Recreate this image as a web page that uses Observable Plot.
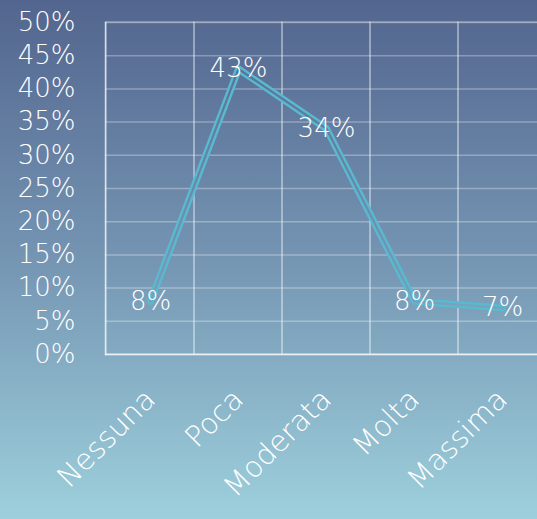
<!DOCTYPE html>
<html><head><meta charset="utf-8">
<script src="https://cdn.jsdelivr.net/npm/d3@7"></script>
<script src="https://cdn.jsdelivr.net/npm/@observablehq/plot@0.6"></script>
<style>
html,body{margin:0;padding:0;width:537px;height:519px;overflow:hidden;}
body{background:linear-gradient(to bottom,#52658e 0%,#7595b3 50%,#9dd0dc 100%);}
#chart svg{display:block;max-width:none !important;}
</style></head><body>
<div id="chart"></div>
<script>
const categories = ["Nessuna", "Poca", "Moderata", "Molta", "Massima"];
const values = [8, 43, 34, 8, 7];
const yTicks = [0, 5, 10, 15, 20, 25, 30, 35, 40, 45, 50];

const data = categories.map((c, i) => ({cat: c, value: values[i]}));

const plot = Plot.plot({
  width: 548,
  height: 519,
  marginLeft: 105,
  marginRight: 1,
  marginTop: 22,
  marginBottom: 165,
  style: {background: "transparent", fontFamily: "'DejaVu Sans', Lato, sans-serif", fontSize: "26px", fontWeight: 200, color: "white", overflow: "visible", maxWidth: "none"},
  x: {type: "band", domain: categories, padding: 0, label: null, tickSize: 0, tickRotate: -45, tickPadding: 40},
  y: {domain: [0, 50], ticks: yTicks, tickFormat: d => d + "%", label: null, tickSize: 0, tickPadding: 30},
  marks: [
    Plot.barY(categories, {x: d => d, y1: 0, y2: 50, fill: "none", stroke: "white", strokeWidth: 1.5, opacity: 0.3}),
    Plot.ruleY(yTicks, {y: d => d, stroke: "white", strokeWidth: 1.5, opacity: 0.3}),
    Plot.ruleY([0], {stroke: "white", strokeWidth: 1.5, opacity: 0.7}),
    Plot.frame({anchor: "left", stroke: "white", strokeWidth: 1.5, opacity: 0.7}),
    Plot.line(data, {x: "cat", y: "value", stroke: "#58b9cf", strokeWidth: 7, strokeLinejoin: "round"}),
    Plot.line(data, {x: "cat", y: "value", stroke: "url(#bgGrad)", strokeWidth: 2.2, strokeLinejoin: "round"}),
    Plot.text(data, {x: "cat", y: "value", text: d => d.value + "%", fill: "white", fontSize: 26, fontWeight: 200})
  ]
});

const ns = "http://www.w3.org/2000/svg";
const defs = document.createElementNS(ns, "defs");
defs.innerHTML = '<linearGradient id="bgGrad" gradientUnits="userSpaceOnUse" x1="0" y1="0" x2="0" y2="519">' +
  '<stop offset="0" stop-color="#52658e"/><stop offset="0.5" stop-color="#7595b3"/><stop offset="1" stop-color="#9dd0dc"/></linearGradient>';
plot.insertBefore(defs, plot.firstChild);

d3.select(plot).selectAll("g[aria-label^='x-axis'] text").attr("font-size", 29).style("font-size", "29px");

document.getElementById("chart").appendChild(plot);
</script>
</body></html>
